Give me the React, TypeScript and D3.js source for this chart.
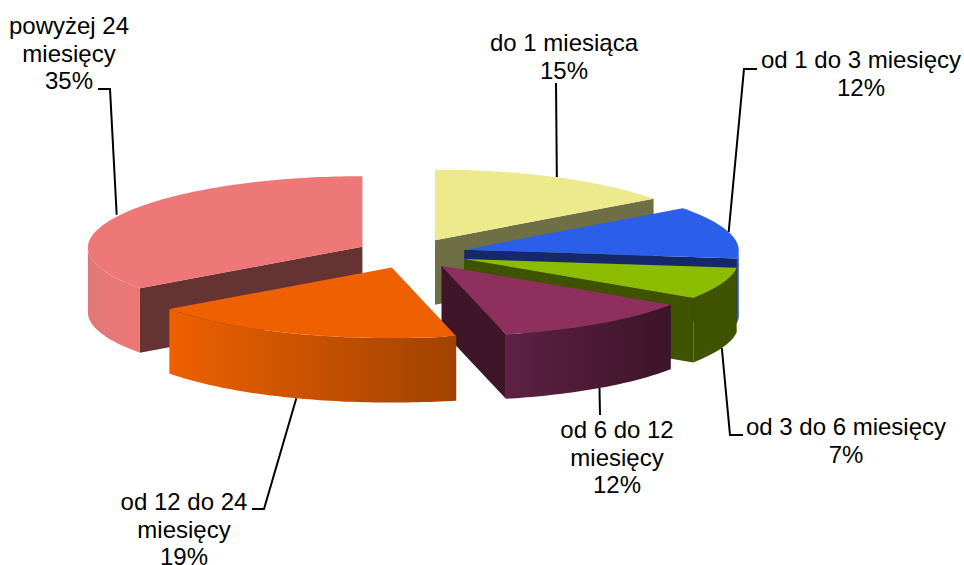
import * as d3 from 'd3';
import React from 'react';

const categories = [
  'do 1 miesiąca',
  'od 1 do 3 miesięcy',
  'od 3 do 6 miesięcy',
  'od 6 do 12 miesięcy',
  'od 12 do 24 miesięcy',
  'powyżej 24 miesięcy',
];
// unrounded shares as read from the slice edges, the labels show them rounded
const shares = [15, 12, 7.3, 11.95, 18.75, 35];
const explodes = [54, 55.5, 57, 54, 54, 54];

const topColors = ['#ecea8c', '#2b5fea', '#8cbc00', '#8e2f5e', '#ee6000', '#ee7777'];
const faceColors = ['#6f6f45', '#14286a', '#3f5200', '#3e1529', '#a34400', '#663333'];
const rimFrom = ['#ecea8c', '#2b5fea', '#3f5200', '#5e2044', '#ee6000', '#e07878'];
const rimTo = ['#ecea8c', '#24479f', '#3f5200', '#3c1428', '#a04200', '#ee7777'];

// wrapped label lines, chart text breaks them by hand
const labelLines = [
  ['do 1 miesiąca', '15%'],
  ['od 1 do 3 miesięcy', '12%'],
  ['od 3 do 6 miesięcy', '7%'],
  ['od 6 do 12', 'miesięcy', '12%'],
  ['od 12 do 24', 'miesięcy', '19%'],
  ['powyżej 24', 'miesięcy', '35%'],
];
const labelX = [564, 861, 846, 617, 184, 69];
const labelY = [51, 68, 435, 438, 510, 34];
const elbows: [number, number][][] = [
  [[556, 83]],
  [[757, 69], [744, 69]],
  [[743, 435], [730, 435]],
  [[600, 415]],
  [[252, 509], [264, 509]],
  [[98, 89], [110, 89]],
];
const anchorDx = [0, 0, 0, 0, 0, -4];

const cx = 410.5;
const cy = 253.5;
const rx = 272;
const ry = 70.5;
const depth = 64.5;
const explodeRatio = 15 / 54;
const perspective = 0.015;
const bulge = 2.5;
const lineHeight = 27.5;

type Pt = [number, number];

const pieLayout = d3.pie<number>().sort(null).value((d) => d)(shares);

const rimPoint = (apex: Pt, a: number, z = 0): Pt => {
  const s = Math.sin(a);
  return [
    apex[0] + rx * (1 - perspective * Math.cos(a)) * s + bulge * Math.sign(s) * s ** 8,
    apex[1] - ry * Math.cos(a) + z,
  ];
};

const anglesBetween = (a0: number, a1: number) => {
  const n = Math.max(2, Math.ceil((a1 - a0) / 0.02));
  return d3.range(n + 1).map((i) => a0 + ((a1 - a0) * i) / n);
};

const line = d3.line<Pt>();
const rimArea = d3
  .area<Pt>()
  .x((d) => d[0])
  .y0((d) => d[1])
  .y1((d) => d[1] + depth);

const slices = pieLayout.map((p, i) => {
  const mid = (p.startAngle + p.endAngle) / 2;
  const e = explodes[i];
  const apex: Pt = [cx + e * Math.sin(mid), cy - e * explodeRatio * Math.cos(mid)];
  const arcPts = anglesBetween(p.startAngle, p.endAngle).map((a) => rimPoint(apex, a));
  const top = line([apex, ...arcPts]) + 'Z';

  // only the radial walls that look towards the viewer are drawn
  const wallAngles: number[] = [];
  if (Math.sin(p.startAngle) < -1e-6) wallAngles.push(p.startAngle);
  if (Math.sin(p.endAngle) > 1e-6) wallAngles.push(p.endAngle);
  const walls = wallAngles.map((a) => {
    const r = rimPoint(apex, a);
    return line([apex, r, [r[0], r[1] + depth], [apex[0], apex[1] + depth]]) + 'Z';
  });

  const a0 = Math.max(p.startAngle, Math.PI / 2);
  const a1 = Math.min(p.endAngle, (3 * Math.PI) / 2);
  const rimPts = a1 > a0 ? anglesBetween(a0, a1).map((a) => rimPoint(apex, a)) : null;
  const rim = rimPts ? rimArea(rimPts) : null;
  const xs = rimPts ? (d3.extent(rimPts, (d) => d[0]) as [number, number]) : [0, 1];

  const anchorBase = rimPoint(apex, mid);
  const anchor: Pt = [
    anchorBase[0] + anchorDx[i],
    anchorBase[1] + (Math.cos(mid) < 0 ? depth : 0),
  ];
  return { i, top, walls, rim, xs, anchor };
});

const App: React.FC = () => (
  <svg
    width={964}
    height={565}
    style={{ position: 'absolute', left: 0, top: 0, background: '#fff' }}
    fontFamily="'Liberation Sans', Arial, sans-serif"
    fontSize={24}
  >
    <defs>
      {slices.map((s) => (
        <linearGradient
          key={s.i}
          id={`rim-${s.i}`}
          gradientUnits="userSpaceOnUse"
          x1={s.xs[0]}
          x2={s.xs[1]}
          y1={0}
          y2={0}
        >
          <stop offset="0" stopColor={rimFrom[s.i]} />
          <stop offset="1" stopColor={rimTo[s.i]} />
        </linearGradient>
      ))}
    </defs>

    {slices.map((s) => (
      <path
        key={categories[s.i]}
        d={line([...elbows[s.i], s.anchor]) as string}
        fill="none"
        stroke="#000"
        strokeWidth={2}
      />
    ))}

    {/* painter order: back right to front left, red first so it sits behind */}
    {[5, 0, 1, 2, 3, 4].map((i) => {
      const s = slices[i];
      return (
        <g key={i}>
          {s.walls.map((d, j) => (
            <path key={j} d={d} fill={faceColors[i]} />
          ))}
          {s.rim && <path d={s.rim} fill={`url(#rim-${i})`} />}
          <path d={s.top} fill={topColors[i]} />
        </g>
      );
    })}

    {labelLines.map((lines, i) => (
      <text key={i} textAnchor="middle" fill="#000">
        {lines.map((t, j) => (
          <tspan key={j} x={labelX[i]} y={labelY[i] + j * lineHeight}>
            {t}
          </tspan>
        ))}
      </text>
    ))}
  </svg>
);

export default App;
